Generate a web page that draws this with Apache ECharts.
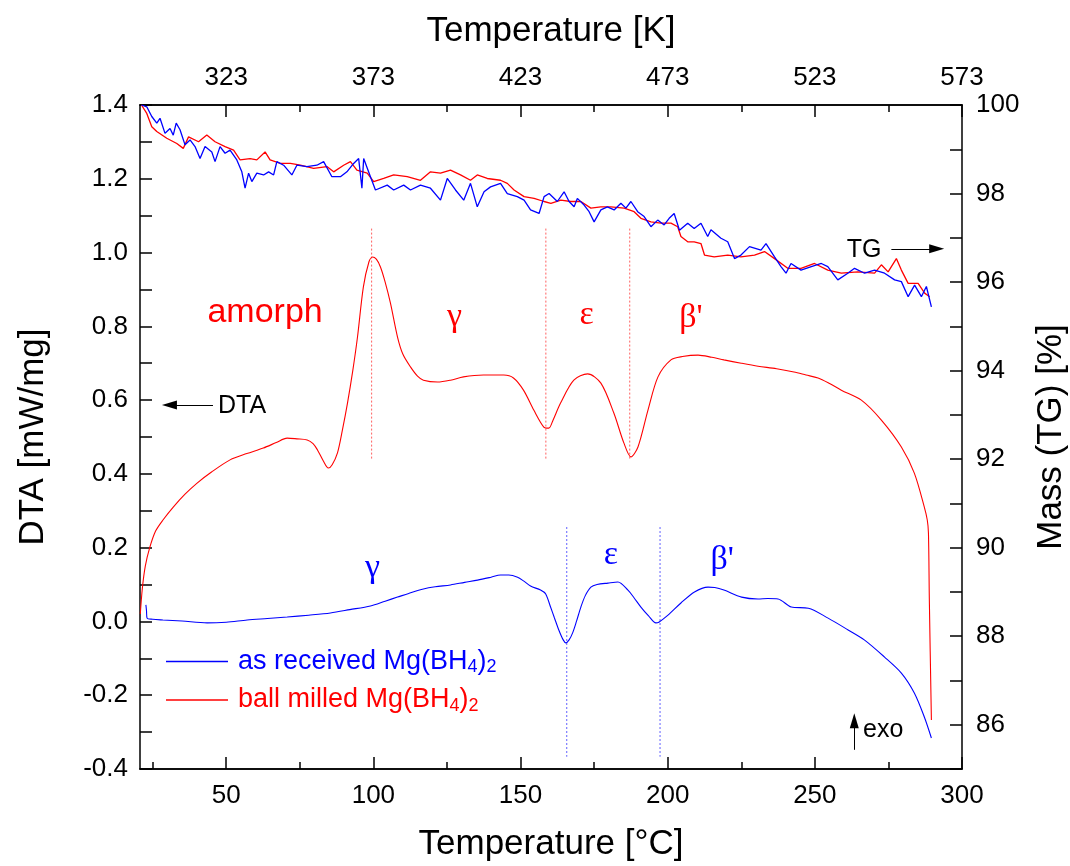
<!DOCTYPE html>
<html><head><meta charset="utf-8">
<script src="https://cdn.jsdelivr.net/npm/echarts@6/dist/echarts.min.js"></script>
<style>html,body{margin:0;padding:0;background:#fff}#c{width:1070px;height:866px}</style>
</head><body><div id="c"></div>
<script>
// ---------- DATA ----------
const redDtaT = [20.8,21.5,22.5,24,26,28.5,32,36,40.1,45,51.3,57,62.6,67,70.7,74,77.5,79.5,81,83,84.7,86,87.8,89.5,91.2,93,94.6,96.6,98.5,99.7,101,102.4,104,105.8,108.2,110,112.6,115,117,121.8,126.2,130.6,137.4,144.3,147.6,151,154.5,157.9,159.6,161,163.6,168.1,172.8,177.3,181.7,185.1,187.5,189.9,193.3,196.7,201.1,205,210.3,215,219.1,225,230.7,237,242.9,247,251.1,255,259,265.8,272.6,279.4,283.8,287.2,288.2,288.6,288.9,289.6];
const redDtaV = [0.02,0.09,0.15,0.2,0.245,0.275,0.31,0.345,0.375,0.405,0.438,0.455,0.47,0.485,0.497,0.495,0.492,0.482,0.465,0.435,0.416,0.425,0.457,0.52,0.592,0.68,0.771,0.907,0.975,0.988,0.982,0.961,0.92,0.863,0.771,0.725,0.69,0.665,0.654,0.649,0.654,0.663,0.668,0.668,0.66,0.627,0.573,0.527,0.524,0.545,0.592,0.654,0.671,0.646,0.565,0.484,0.446,0.473,0.573,0.663,0.709,0.718,0.722,0.716,0.709,0.7,0.692,0.685,0.676,0.668,0.66,0.645,0.627,0.6,0.546,0.473,0.402,0.31,0.275,0.24,0.06,-0.267];

const blueDtaT = [22.7,22.9,23.1,25,28.5,35,43.5,50,57.1,64,70.7,78,85.4,92,99,104,108.2,112,117,121,126.2,131,135.4,140,143.2,146,149,151,153.4,156.8,158.5,160.2,161.5,163,164.5,165.4,166.5,167.7,169,170.5,172,173.9,176,179.7,183.1,186.5,188.5,190.9,193.5,196,197,200.1,204.5,209.1,213.7,216,219.1,225.1,230.7,234,237.5,242,247.8,254.5,261.3,266.8,273.6,279.4,283.8,287.2,289.6];
const blueDtaV = [0.045,0.03,0.009,0.006,0.004,0.001,-0.004,-0.002,0.004,0.008,0.012,0.017,0.023,0.032,0.042,0.055,0.066,0.076,0.088,0.094,0.099,0.106,0.112,0.12,0.126,0.126,0.12,0.11,0.096,0.085,0.075,0.039,0.01,-0.023,-0.05,-0.058,-0.05,-0.031,0.0,0.039,0.07,0.093,0.1,0.104,0.107,0.085,0.065,0.039,0.015,-0.004,-0.002,0.017,0.05,0.08,0.093,0.092,0.085,0.066,0.061,0.062,0.061,0.039,0.036,0.009,-0.023,-0.05,-0.096,-0.14,-0.194,-0.259,-0.316];

const blueTgT = [21.2,23.0,24.7,26.4,27.5,29.2,30.9,32.0,33.0,34.3,36.0,37.7,39.4,41.1,42.8,45.1,46.2,47.9,49.6,51.3,53.6,55.3,56.4,57.6,58.7,60.4,62.7,64.4,66.1,67.2,69.5,72.3,74.0,77.4,80.8,83.1,85.9,88.8,91.0,93.3,95.0,96.1,96.7,99.0,100.7,104.7,106.9,110.3,112.6,116.0,119.4,122.8,125.1,127.9,130.7,133.0,135.3,137.6,139.8,143.2,145.5,148.9,151.2,153.4,156.3,158.0,159.7,162.5,164.8,166.5,168.2,169.3,171.6,173.3,175.0,177.3,179.5,181.8,184.1,185.8,187.5,189.8,192.0,194.3,196.6,198.8,200.5,202.2,204.0,206.8,209.0,211.3,213.6,214.7,218.1,220.4,222.7,224.9,227.8,231.7,233.4,236.3,238.5,240.2,241.9,245.3,248.8,252.2,254.4,257.8,261.2,263.5,266.9,270.3,273.7,277.1,279.4,281.7,283.9,286.2,287.9,289.6];
const blueTgM = [100.0,99.96,99.74,99.59,99.70,99.36,99.47,99.32,99.59,99.44,99.10,99.21,99.06,98.79,99.06,98.94,98.72,99.06,98.91,98.98,98.76,98.49,98.12,98.46,98.27,98.46,98.42,98.49,98.42,98.72,98.64,98.42,98.64,98.61,98.64,98.72,98.38,98.38,98.49,98.68,98.79,98.12,98.79,98.38,98.08,98.19,98.08,98.19,98.08,98.19,98.12,97.85,98.34,98.08,97.85,98.23,97.70,98.04,98.15,98.23,98.00,97.93,97.85,97.63,97.55,97.93,98.00,97.82,98.04,97.82,97.70,97.89,97.74,97.59,97.36,97.63,97.70,97.63,97.78,97.67,97.82,97.59,97.48,97.25,97.40,97.29,97.44,97.55,97.17,97.33,97.21,97.33,97.03,97.18,96.99,96.91,96.53,96.61,96.80,96.72,96.87,96.57,96.35,96.20,96.42,96.27,96.35,96.42,96.35,96.05,96.20,96.31,96.20,96.27,96.20,96.05,96.01,95.67,95.93,95.67,95.90,95.44];

const redTgT = [21.2,23.0,24.7,26.4,29.8,33.2,35.4,37.2,40.6,43.4,46.2,49.6,52.5,54.7,58.1,60.4,63.2,64.9,68.4,71.8,75.2,79.7,84.2,86.5,89.9,92.2,94.4,97.9,100.1,103.5,106.9,111.5,116.0,119.4,122.8,126.2,129.6,133.0,135.3,138.7,143.2,145.5,147.8,151.2,154.6,158.0,160.3,163.7,167.1,170.5,173.9,177.3,180.7,185.2,188.6,190.9,194.3,197.7,201.1,203.4,204.5,206.8,209.0,211.3,212.5,215.8,220.4,224.9,229.5,232.9,236.3,240.8,245.3,249.9,254.4,259.0,264.6,270.3,272.6,274.9,277.7,279.4,281.7,285.1,287.3,289.0];
const redTgM = [100.0,99.81,99.51,99.40,99.25,99.13,99.02,99.28,99.17,99.32,99.17,99.06,98.98,98.76,98.79,98.76,98.94,98.76,98.68,98.68,98.64,98.57,98.61,98.49,98.64,98.72,98.53,98.46,98.27,98.34,98.42,98.38,98.30,98.49,98.46,98.53,98.42,98.30,98.42,98.34,98.30,98.23,98.08,97.93,97.89,97.82,97.78,97.85,97.82,97.82,97.67,97.70,97.70,97.67,97.59,97.44,97.36,97.33,97.33,97.25,97.03,96.91,96.91,96.87,96.61,96.57,96.61,96.57,96.61,96.69,96.53,96.31,96.31,96.42,96.27,96.20,96.23,96.20,96.39,96.23,96.53,96.27,95.97,95.97,95.75,95.67];

// phase boundary markers (temperature) and their DTA extent
const redMarkT = [99.4,158.6,187.1];
const redMarkRange = [0.44,1.065];
const blueMarkT = [165.7,197.4];
const blueMarkRange = [-0.367,0.256];

// tick labels
const cTicks = [50,100,150,200,250,300];
const cMinor = [25,75,125,175,225,275];
const kMinor = [75,125,175,225,275];

// annotations (text, T, DTA value)
const phaseTexts = ['amorph','γ','ε',"β'",'γ','ε',"β'"];
const phaseT = [63.2,127.6,172.5,207.9,99.7,180.7,218.5];
const phaseV = [0.836,0.826,0.83,0.823,0.145,0.18,0.167];
const phaseColors = ['#ff0000','#ff0000','#ff0000','#ff0000','#0000ff','#0000ff','#0000ff'];

const legendNames = ['as received Mg(BH4)2','ball milled Mg(BH4)2'];

// ---------- CHART ----------
const xMin = 20.7, xMax = 300;
const FONT = '"Liberation Sans", Arial, sans-serif';
const SERIF = '"Liberation Serif", "Times New Roman", serif';
const zip = (a,b) => a.map((x,i)=>[x,b[i]]);
const black = {color:'#000', width:1.5};

const chart = echarts.init(document.getElementById('c'), null, {renderer:'canvas'});

const xBase = {type:'value', min:xMin, max:xMax, splitLine:{show:false}, axisLine:{show:true, onZero:false, lineStyle:black}};

const series = [];
series.push({name:legendNames[1], type:'line', xAxisIndex:0, yAxisIndex:0, data:zip(redDtaT,redDtaV), symbol:'none', smooth:0.3, color:'#ff0000', lineStyle:{color:'#ff0000', width:1.1}, z:3});
series.push({name:legendNames[0], type:'line', xAxisIndex:0, yAxisIndex:0, data:zip(blueDtaT,blueDtaV), symbol:'none', smooth:0.3, color:'#0000ff', lineStyle:{color:'#0000ff', width:1.1}, z:3});
series.push({name:'TG ball milled', type:'line', xAxisIndex:0, yAxisIndex:1, data:zip(redTgT,redTgM), symbol:'none', color:'#ff0000', lineStyle:{color:'#ff0000', width:1.3}, z:3});
series.push({name:'TG as received', type:'line', xAxisIndex:0, yAxisIndex:1, data:zip(blueTgT,blueTgM), symbol:'none', color:'#0000ff', lineStyle:{color:'#0000ff', width:1.3}, z:4});
redMarkT.forEach((t,i)=>series.push({name:'rm'+i, type:'line', xAxisIndex:0, yAxisIndex:0, data:[[t,redMarkRange[1]],[t,redMarkRange[0]]], symbol:'none', color:'#ff6060', lineStyle:{color:'#ff6060', width:1, type:[2,2]}, z:2}));
blueMarkT.forEach((t,i)=>series.push({name:'bm'+i, type:'line', xAxisIndex:0, yAxisIndex:0, data:[[t,blueMarkRange[1]],[t,blueMarkRange[0]]], symbol:'none', color:'#6060ff', lineStyle:{color:'#6060ff', width:1, type:[2,2]}, z:2}));

// phase labels
series.push({name:'phases', type:'scatter', xAxisIndex:0, yAxisIndex:0, symbolSize:1, itemStyle:{color:'rgba(0,0,0,0)', opacity:1}, silent:true, z:5,
  data: phaseTexts.map((s,i)=>({value:[phaseT[i],phaseV[i]], label:{show:true, position:'inside', formatter:s, color:phaseColors[i], opacity:1,
     textBorderWidth:0, fontFamily: i===0 ? FONT : SERIF, fontSize:34}}))});

// arrow texts
series.push({name:'notes', type:'scatter', xAxisIndex:0, yAxisIndex:0, symbolSize:1, itemStyle:{color:'rgba(0,0,0,0)', opacity:1}, silent:true, z:5,
  data:[
    {value:[47.2,0.585], label:{show:true, position:'inside', align:'left', formatter:'DTA', color:'#000', textBorderWidth:0, fontFamily:FONT, fontSize:25}},
    {value:[272.6,1.007], label:{show:true, position:'inside', align:'right', formatter:'TG', color:'#000', textBorderWidth:0, fontFamily:FONT, fontSize:25}},
    {value:[266.4,-0.294], label:{show:true, position:'inside', align:'left', formatter:'exo', color:'#000', textBorderWidth:0, fontFamily:FONT, fontSize:25}}
  ]});
// arrows (line end sits at the centre of the head)
series.push({name:'arrows', type:'line', xAxisIndex:0, yAxisIndex:0, data:[], symbol:'none', color:'#000', silent:true, z:5,
  markLine:{silent:true, symbol:['none','triangle'], symbolSize:[9,15], label:{show:false}, animation:false,
    itemStyle:{color:'#000'}, lineStyle:{color:'#000', width:1, type:'solid', opacity:1},
    data:[
      [{coord:[45.5,0.587]},{coord:[30.7,0.587]}],
      [{coord:[276.0,1.010]},{coord:[291.4,1.010]}],
      [{coord:[263.4,-0.348]},{coord:[263.4,-0.269]}]
    ]}
});

const option = {
  animation:false,
  backgroundColor:'#fff',
  grid:{left:140, right:108, top:105, bottom:97, containLabel:false, outerBoundsMode:'none'},
  legend:{
    orient:'vertical', left:161, top:643, itemWidth:62, itemHeight:1.5, itemGap:10, icon:'rect',
    data:[{name:legendNames[0], textStyle:{color:'#0000ff'}},{name:legendNames[1], textStyle:{color:'#ff0000'}}],
    formatter: n => n===legendNames[0] ? '{n|as received Mg(BH}{s|4}{n|)}{s|2}' : '{n|ball milled Mg(BH}{s|4}{n|)}{s|2}',
    textStyle:{fontFamily:FONT, fontSize:27, padding:[0,0,0,5],
      rich:{n:{fontSize:27, fontFamily:FONT}, s:{fontSize:18, fontFamily:FONT, padding:[12,0,0,0]}}}
  },
  xAxis:[
    Object.assign({}, xBase, {position:'bottom', name:'Temperature [°C]', nameLocation:'middle', nameGap:58,
      nameTextStyle:{fontSize:35, fontFamily:FONT, color:'#000'},
      axisTick:{show:true, inside:true, length:12, customValues:cTicks, lineStyle:black},
      axisLabel:{show:true, customValues:cTicks, fontSize:26, fontFamily:FONT, color:'#000', margin:14}}),
    Object.assign({}, xBase, {position:'bottom',
      axisTick:{show:true, inside:true, length:7, customValues:cMinor, lineStyle:black},
      axisLabel:{show:false}}),
    Object.assign({}, xBase, {position:'top', name:'Temperature [K]', nameLocation:'middle', nameGap:56,
      nameTextStyle:{fontSize:35, fontFamily:FONT, color:'#000'},
      axisTick:{show:true, inside:true, length:12, customValues:cTicks, lineStyle:black},
      axisLabel:{show:true, customValues:cTicks, formatter:v=>String(Math.round(v+273)), fontSize:26, fontFamily:FONT, color:'#000', margin:14}}),
    Object.assign({}, xBase, {position:'top',
      axisTick:{show:true, inside:true, length:7, customValues:kMinor, lineStyle:black},
      axisLabel:{show:false}})
  ],
  yAxis:[
    {type:'value', position:'left', min:-0.4, max:1.4, interval:0.1, splitLine:{show:false},
      name:'DTA [mW/mg]', nameLocation:'middle', nameGap:89, nameTextStyle:{fontSize:35, fontFamily:FONT, color:'#000'},
      axisLine:{show:true, onZero:false, lineStyle:black},
      axisTick:{show:true, inside:true, length:12, lineStyle:black},
      axisLabel:{fontSize:26, fontFamily:FONT, color:'#000', margin:12, showMinLabel:true, showMaxLabel:true,
        formatter:v=>{const k=Math.round(v*10); return Math.abs(k)%2===0 ? (k/10).toFixed(1) : '';}}},
    {type:'value', position:'right', min:85, max:100, interval:1, splitLine:{show:false},
      name:'Mass (TG) [%]', nameLocation:'middle', nameGap:72, nameTextStyle:{fontSize:35, fontFamily:FONT, color:'#000'},
      axisLine:{show:true, onZero:false, lineStyle:black},
      axisTick:{show:true, inside:true, length:12, lineStyle:black},
      axisLabel:{fontSize:26, fontFamily:FONT, color:'#000', margin:14,
        formatter:v=>{const k=Math.round(v); return k%2===0 ? String(k) : '';}}}
  ],
  series: series
};
chart.setOption(option);
</script>
</body></html>
